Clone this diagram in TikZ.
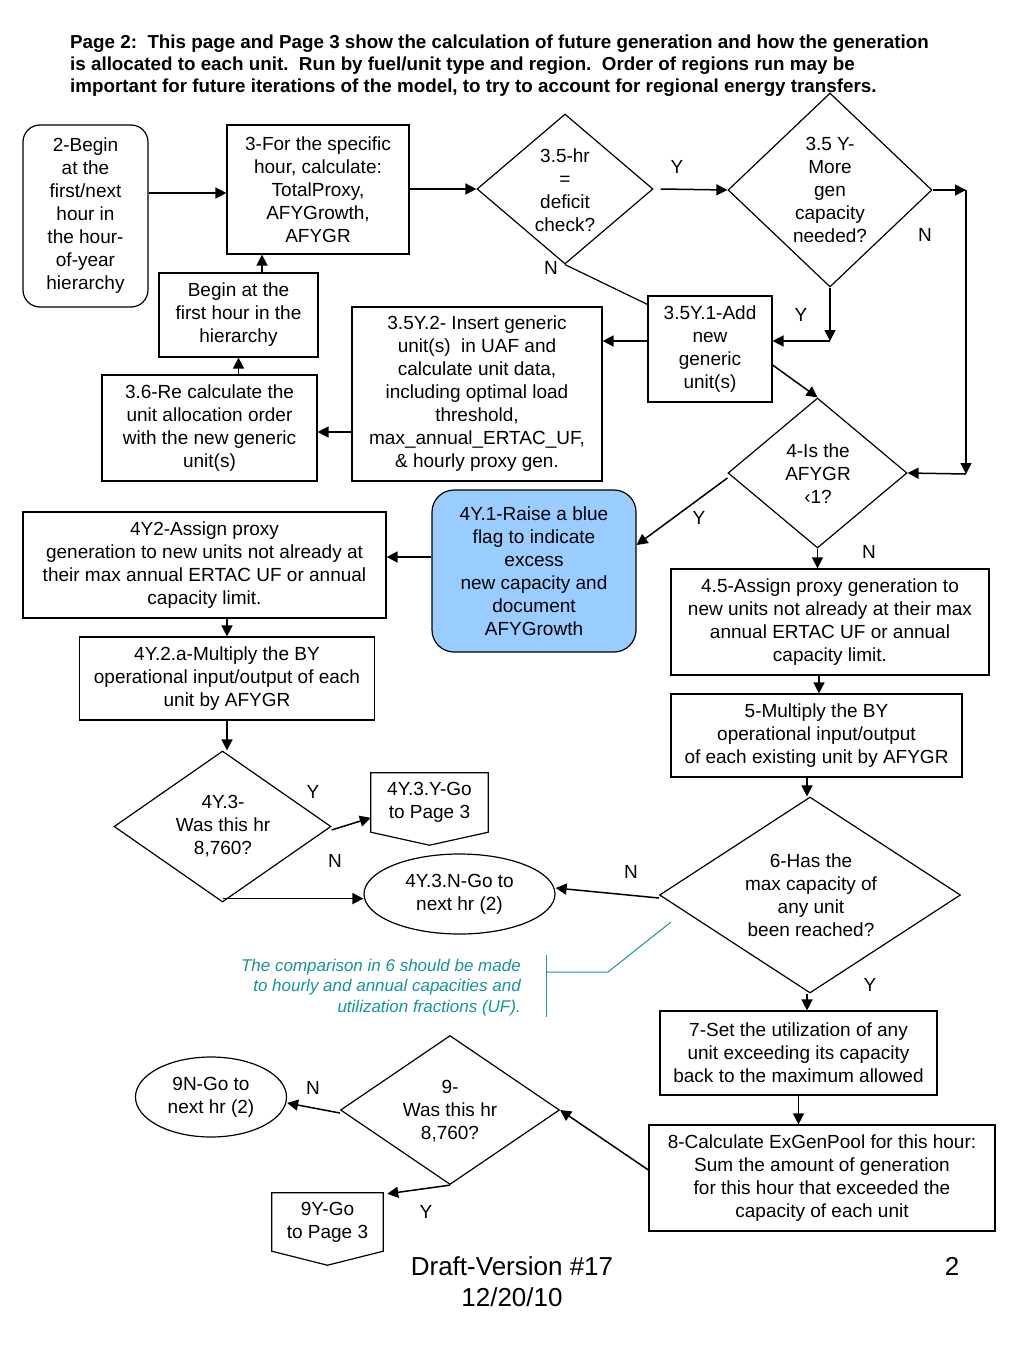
\documentclass[tikz,border=0pt]{standalone}
\usepackage{fontspec}
\setmainfont{Liberation Sans}
\usetikzlibrary{shapes.geometric,arrows.meta,calc}
\definecolor{flagblue}{RGB}{153,204,255}
\definecolor{noteteal}{RGB}{20,150,150}
\newcommand\myBody{\fontsize{19}{23}\selectfont}
\newcommand\myTitle{\fontsize{18.8}{22}\selectfont\bfseries}
\newcommand\myNote{\fontsize{17}{20.5}\selectfont\itshape}
\newcommand\myFoot{\fontsize{26}{31}\selectfont}
\begin{document}
\begin{tikzpicture}[x=1pt,y=-1pt,
  box/.style={draw, line width=1.2pt, align=center, inner sep=0pt, font=\myBody},
  diam/.style={draw, diamond, line width=1.2pt, inner sep=0pt},
  txt/.style={align=center, inner sep=0pt, font=\myBody},
  oval/.style={draw, ellipse, line width=1.2pt, align=center, inner sep=0pt, font=\myBody},
  pent/.style={align=center, inner sep=0pt, font=\myBody},
  arr/.style={-{Triangle[length=11pt,width=11pt]}, line width=1.5pt},
  conn/.style={line width=1.2pt},
  lbl/.style={inner sep=0pt, font=\myBody},
  noteline/.style={draw=noteteal, line width=1pt}]
\useasboundingbox (0,0) rectangle (1024,1365);
\fill[white] (0,0) rectangle (1024,1365);

% title
\node[anchor=north west, align=left, inner sep=0pt, font=\myTitle] (title) at (70,34.5)
 {Page 2:\ \ This page and Page 3 show the calculation of future generation and how the generation\\
  is allocated to each unit.\ \ Run by fuel/unit type and region.\ \ Order of regions run may be\\
  important for future iterations of the model, to try to account for regional energy transfers.};

% nodes
\node[box, rounded corners=17pt, minimum width=125pt, minimum height=182pt] (n2) at (85.5,216)
 {2-Begin\\at the\\first/next\\hour in\\the hour-\\of-year\\hierarchy};
\node[box, minimum width=182pt, minimum height=129pt] (n3) at (318,189.5)
 {3-For the specific\\hour, calculate:\\TotalProxy,\\AFYGrowth,\\AFYGR};
\node[diam, minimum width=176pt, minimum height=150pt] (d35) at (565,189) {};
\node[txt] (d35t) at (565,190) {3.5-hr\\=\\deficit\\check?};
\node[diam, minimum width=204pt, minimum height=194pt] (d35Y) at (830,190) {};
\node[txt] (d35Yt) at (830,190) {3.5 Y-\\More\\gen\\capacity\\needed?};
\node[box, minimum width=159pt, minimum height=84pt] (nBegin) at (238.5,315)
 {Begin at the\\first hour in the\\hierarchy};
\node[box, minimum width=215pt, minimum height=106pt] (n36) at (209.5,428)
 {3.6-Re calculate the\\unit allocation order\\with the new generic\\unit(s)};
\node[box, minimum width=250pt, minimum height=174pt] (n35Y2) at (477,394)
 {3.5Y.2- Insert generic\\unit(s)\ \ in UAF and\\calculate unit data,\\including optimal load\\threshold,\\max\_annual\_ERTAC\_UF,\\\& hourly proxy gen.};
\node[box, minimum width=124pt, minimum height=106pt] (n35Y1) at (710,349)
 {3.5Y.1-Add\\new\\generic\\unit(s)};
\node[diam, minimum width=179pt, minimum height=150pt] (d4) at (817.5,473) {};
\node[txt] (d4t) at (818,474) {4-Is the\\AFYGR\\‹1?};
\node[box, fill=flagblue, rounded corners=22pt, minimum width=204pt, minimum height=162pt] (n4Y1) at (534,571)
 {4Y.1-Raise a blue\\flag to indicate\\excess\\new capacity and\\document\\AFYGrowth};
\node[box, minimum width=363pt, minimum height=106pt] (n4Y2) at (204.5,565)
 {4Y2-Assign proxy\\generation to new units not already at\\their max annual ERTAC UF or annual\\capacity limit.};
\node[box, minimum width=318pt, minimum height=106pt] (n45) at (830,622)
 {4.5-Assign proxy generation to\\new units not already at their max\\annual ERTAC UF or annual\\capacity limit.};
\node[box, minimum width=295pt, minimum height=83pt] (n4Y2a) at (227,678.5)
 {4Y.2.a-Multiply the BY\\operational input/output of each\\unit by AFYGR};
\node[box, minimum width=291pt, minimum height=83pt] (n5) at (816.5,735.5)
 {5-Multiply the BY\\operational input/output\\of each existing unit by AFYGR};
\node[diam, minimum width=217pt, minimum height=151pt] (d4Y3) at (222.5,826.5) {};
\node[txt] (d4Y3t) at (223,826.5) {4Y.3-\\Was this hr\\8,760?};
\node[pent, minimum width=117pt, minimum height=59pt] (n4Y3Y) at (429.5,802.5) {4Y.3.Y-Go\\to Page 3};
\draw[conn] (n4Y3Y.north west) -- (n4Y3Y.north east) -- (n4Y3Y.south east)
  -- ([yshift=-13pt]n4Y3Y.south) -- (n4Y3Y.south west) -- cycle;
\node[oval, minimum width=191pt, minimum height=80pt] (n4Y3N) at (459.5,894) {4Y.3.N-Go to\\next hr (2)};
\node[diam, minimum width=301pt, minimum height=196pt] (d6) at (810,895) {};
\node[txt] (d6t) at (811,895) {6-Has the\\max capacity of\\any unit\\been reached?};
\node[box, minimum width=277pt, minimum height=84pt] (n7) at (798.5,1053)
 {7-Set the utilization of any\\unit exceeding its capacity\\back to the maximum allowed};
\node[box, minimum width=346pt, minimum height=106pt] (n8) at (822,1178)
 {8-Calculate ExGenPool for this hour:\\Sum the amount of generation\\for this hour that exceeded the\\capacity of each unit};
\node[diam, minimum width=219pt, minimum height=149pt] (d9) at (450,1110) {};
\node[txt] (d9t) at (450,1111) {9-\\Was this hr\\8,760?};
\node[oval, minimum width=151pt, minimum height=80pt] (n9N) at (211,1097) {9N-Go to\\next hr (2)};
\node[pent, minimum width=111pt, minimum height=58pt] (n9Y) at (327.5,1222) {9Y-Go\\to Page 3};
\draw[conn] (n9Y.north west) -- (n9Y.north east) -- (n9Y.south east)
  -- ([yshift=-14pt]n9Y.south) -- (n9Y.south west) -- cycle;

% helper coordinates
\coordinate (k0) at (0,193);
\coordinate (k1) at (966,190);
\coordinate (k2) at (966,474);
\coordinate (k3) at (830,341);
\coordinate (k4) at (0,432);
\coordinate (k5) at (262,0);
\coordinate (k6) at (0,557);
\coordinate (k7) at (819,0);
\coordinate (k8) at (807,0);

% connectors
\draw[arr] (n2.east |- k0) -- (n3.west |- k0);
\draw[arr] (n3.east |- d35.west) -- (d35.west);
\draw[arr] ([xshift=7pt]d35.east) -- (d35Y.west);
\draw[arr] (d35Y.east) -- (k1);
\draw[arr] (k1) -- (k2);
\draw[arr] (k2) -- (d4.east);
\draw[arr] (d35Y.south) -- (k3);
\draw[arr] (k3) -- (k3 -| n35Y1.east);
\draw[conn] (d35.south) -- ([yshift=-9pt]n35Y1.north west);
\draw[arr] (k3 -| n35Y1.west) -- (k3 -| n35Y2.east);
\draw[arr] (n35Y2.west |- k4) -- (n36.east |- k4);
\draw[arr] (nBegin.south |- n36.north) -- (nBegin.south);
\draw[arr] (k5 |- nBegin.north) -- (k5 |- n3.south);
\draw[arr] ([yshift=-16pt]n35Y1.east) -- (d4.north);
\draw[arr] ([yshift=-5pt]d4.west) -- ([yshift=26pt]n4Y1.east);
\draw[arr] (d4.south) -- (d4.south |- n45.north);
\draw[arr] (n4Y1.west |- k6) -- (n4Y2.east |- k6);
\draw[arr] (n4Y2a.north |- n4Y2.south) -- (n4Y2a.north);
\draw[arr] (n4Y2a.south) -- (n4Y2a.south |- d4Y3.north);
\draw[arr] ([yshift=-3.5pt]d4Y3.east) -- ([yshift=-45pt]n4Y3Y.north west);
\draw[arr] ([yshift=4pt]d4Y3.south) -- ([yshift=4pt]d4Y3.south -| n4Y3N.west);
\draw[arr] ([yshift=-3pt]d6.west) -- ([yshift=6pt]n4Y3N.east);
\draw[arr] (k7 |- n45.south) -- (k7 |- n5.north);
\draw[arr] (k8 |- n5.south) -- (k8 |- d6.north);
\draw[arr] (k8 |- d6.south) -- (k8 |- n7.north);
\draw[arr] (n7.south) -- (n7.south |- n8.north);
\draw[arr] ([yshift=8pt]n8.west) -- (d9.east);
\draw[arr] ([yshift=-3pt]d9.west) -- ([yshift=-6pt]n9N.east);
\draw[arr] (d9.south) -- ([xshift=4pt,yshift=-1pt]n9Y.north east);

% Y / N labels
\node[lbl] (l1) at (677,167) {Y};
\node[lbl] (l2) at (925,235) {N};
\node[lbl] (l3) at (551,268) {N};
\node[lbl] (l4) at (801,315) {Y};
\node[lbl] (l5) at (699,518) {Y};
\node[lbl] (l6) at (869,552) {N};
\node[lbl] (l7) at (313,792) {Y};
\node[lbl] (l8) at (335,861) {N};
\node[lbl] (l9) at (631,872) {N};
\node[lbl] (l10) at (870,985) {Y};
\node[lbl] (l11) at (313,1088) {N};
\node[lbl] (l12) at (426,1212) {Y};

% comment
\node[anchor=east, align=right, inner sep=0pt, font=\myNote, text=noteteal] (note) at (521,987.5)
 {The comparison in 6 should be made\\to hourly and annual capacities and\\utilization fractions (UF).};
\coordinate (m1) at (546,955);
\coordinate (m2) at (546,1017);
\coordinate (m3) at (546,972);
\coordinate (m4) at (608,972);
\coordinate (m5) at (671,922);
\draw[noteline] (m1) -- (m2);
\draw[noteline] (m3) -- (m4) -- (m5);

% footer
\node[align=center, inner sep=0pt, font=\myFoot] (foot) at (512,1282) {Draft-Version \#17\\12/20/10};
\node[inner sep=0pt, font=\myFoot] (pg) at (952,1266) {2};
\end{tikzpicture}
\end{document}
